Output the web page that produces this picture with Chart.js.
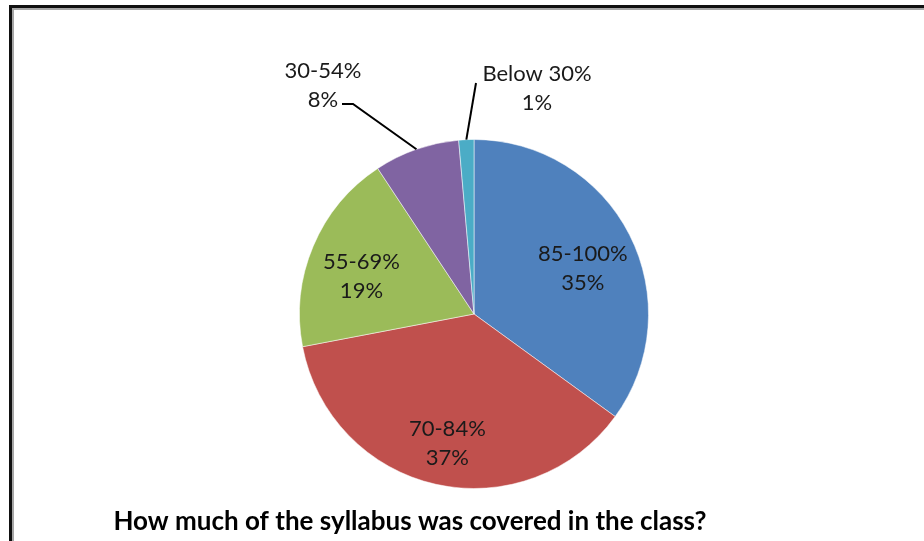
<!DOCTYPE html>
<html>
<head>
<meta charset="utf-8">
<script src="https://cdn.jsdelivr.net/npm/chart.js@4.4.1/dist/chart.umd.min.js"></script>
<style>
  html, body { margin: 0; padding: 0; background: #fff; }
  #wrap { position: relative; width: 924px; height: 541px; }
</style>
</head>
<body>
<div id="wrap"><canvas id="pieChart" width="924" height="541"></canvas></div>
<script>
// chart data
const categories = ["85-100%", "70-84%", "55-69%", "30-54%", "Below 30%"];
const shares = [35, 37, 18.7, 7.9, 1.4];
const shareLabels = ["35%", "37%", "19%", "8%", "1%"];
const chartTitle = "How much of the syllabus was covered in the class?";

const sliceColors = ["#4F81BD", "#C0504D", "#9BBB59", "#8064A2", "#4BACC6"];

// frame round the picture (black line with a grey shadow, top and left only)
const framePlugin = {
  id: "frame",
  beforeDraw(chart) {
    const c = chart.ctx;
    c.save();
    c.fillStyle = "#ffffff";
    c.fillRect(0, 0, chart.width, chart.height);
    c.fillStyle = "#111111";
    c.fillRect(9, 5, chart.width - 9, 3);
    c.fillRect(9, 5, 3, chart.height - 5);
    c.fillStyle = "#a6a6a6";
    c.fillRect(12, 8, chart.width - 12, 2);
    c.fillRect(12, 8, 2, chart.height - 8);
    c.restore();
  },
};

// slice labels: inside for the big ones, outside with leader lines for the small ones
const labelPlugin = {
  id: "sliceLabels",
  afterDatasetsDraw(chart, args, opts) {
    const c = chart.ctx;
    const meta = chart.getDatasetMeta(0);
    c.save();
    c.font = opts.font;
    c.fillStyle = "#1a1a1a";
    c.textAlign = "center";
    c.textBaseline = "middle";
    meta.data.forEach((arc, i) => {
      const { x, y, startAngle, endAngle, outerRadius } = arc.getProps(
        ["x", "y", "startAngle", "endAngle", "outerRadius"], true);
      const mid = (startAngle + endAngle) / 2;
      const out = opts.outside[i];
      if (!out) {
        const r = outerRadius * opts.insideRatio;
        const lx = x + Math.cos(mid) * r;
        const ly = y + Math.sin(mid) * r + opts.insideShift;
        c.fillText(categories[i], lx, ly - opts.lineGap / 2);
        c.fillText(shareLabels[i], lx, ly + opts.lineGap / 2);
        return;
      }
      // leader line from the slice edge to the text block
      const ex = x + Math.cos(mid) * outerRadius;
      const ey = y + Math.sin(mid) * outerRadius;
      c.strokeStyle = "#000";
      c.lineWidth = 2;
      c.beginPath();
      c.moveTo(ex, ey);
      out.line.forEach((p) => c.lineTo(x + p[0], y + p[1]));
      c.stroke();
      c.fillText(categories[i], x + out.text[0], y + out.text[1] - opts.lineGap / 2);
      c.fillText(shareLabels[i], x + out.text[0], y + out.text[1] + opts.lineGap / 2);
    });
    c.restore();
  },
};

const titlePlugin = {
  id: "bottomTitle",
  afterDraw(chart, args, opts) {
    const c = chart.ctx;
    c.save();
    c.font = opts.font;
    c.fillStyle = "#000";
    c.textAlign = "center";
    c.textBaseline = "middle";
    c.fillText(chartTitle, opts.x, opts.y);
    c.restore();
  },
};

document.addEventListener("DOMContentLoaded", () => {
  const ctx = document.getElementById("pieChart").getContext("2d");
  new Chart(ctx, {
    type: "pie",
    data: {
      labels: categories,
      datasets: [
        {
          data: shares,
          backgroundColor: sliceColors,
          borderColor: "rgba(255,255,255,0.5)",
          borderWidth: 1,
        },
      ],
    },
    options: {
      responsive: false,
      animation: false,
      layout: { padding: { top: 139, bottom: 52, left: 24, right: 0 } },
      plugins: {
        legend: { display: false },
        tooltip: { enabled: false },
        sliceLabels: {
          font: "22px Lato",
          lineGap: 29,
          insideRatio: 0.7,
          insideShift: 10,
          outside: [
            null,
            null,
            null,
            { text: [-151, -229], line: [[-121, -210], [-132, -210]] },
            { text: [63, -226], line: [[2, -231]] },
          ],
        },
        bottomTitle: { font: "bold 26px Lato", x: 410, y: 522 },
      },
    },
    plugins: [framePlugin, labelPlugin, titlePlugin],
  });
});
</script>
</body>
</html>
